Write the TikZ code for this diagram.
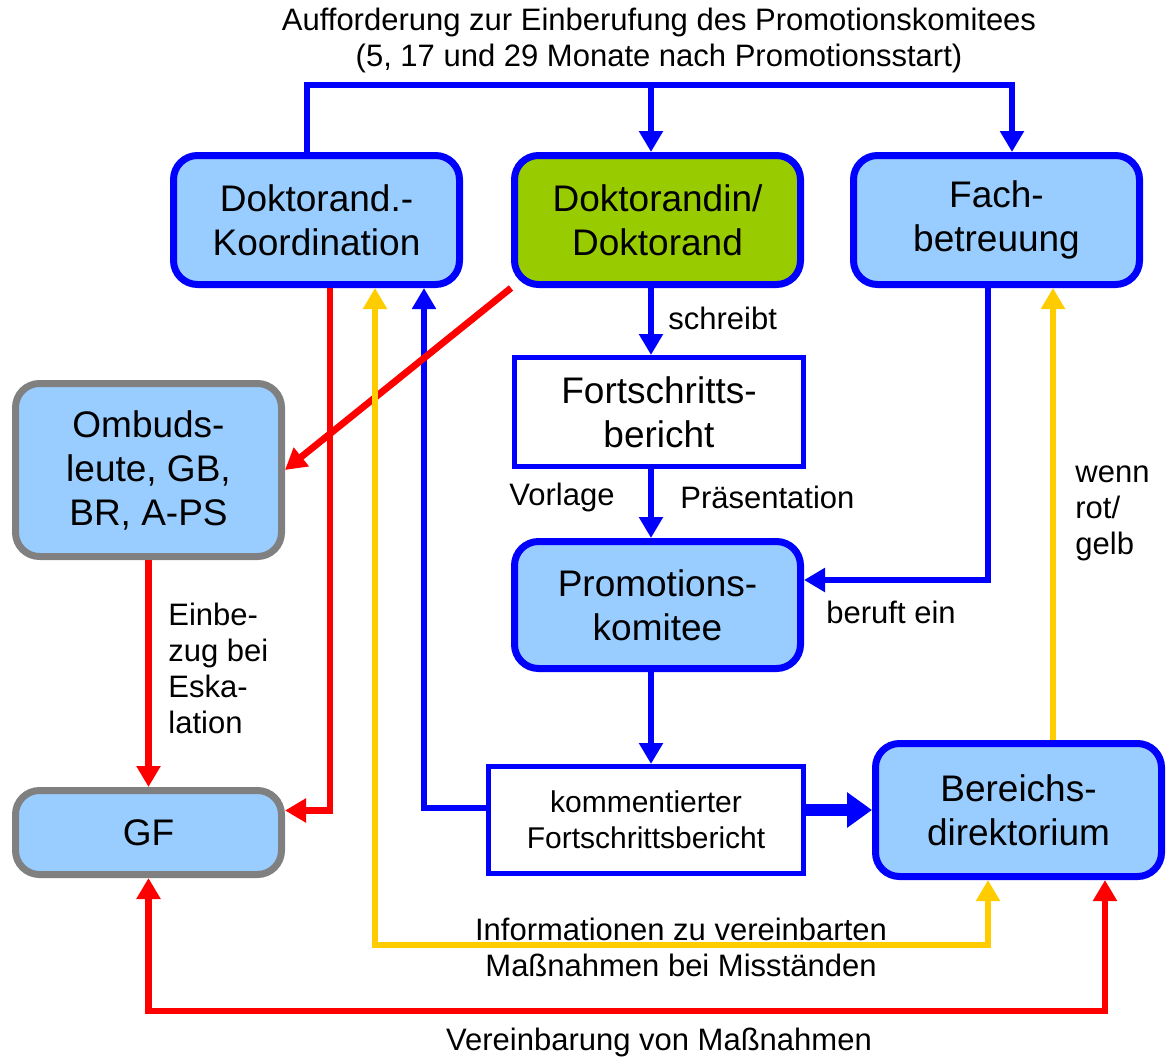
\documentclass[tikz,border=0pt]{standalone}
\usepackage{fontspec}
\setmainfont{Liberation Sans}
\usetikzlibrary{arrows.meta,calc}
\definecolor{boxblue}{HTML}{99CCFF}
\definecolor{boxgreen}{HTML}{99CC00}
\definecolor{lineblue}{HTML}{0000FF}
\definecolor{linered}{HTML}{FF0000}
\definecolor{lineyellow}{HTML}{FFCC00}
\definecolor{boxgray}{HTML}{808080}

\begin{document}
\begin{tikzpicture}[x=0.5pt,y=-0.5pt,
  >={Triangle[width=11.5pt,length=10.5pt]},
  rbox/.style={draw=lineblue,line width=3.5pt,rounded corners=12pt,fill=boxblue,
    minimum width=143pt,minimum height=64.5pt,align=center,
    font=\fontsize{18.5}{22}\selectfont},
  gbox/.style={rbox,draw=boxgray,minimum width=133pt},
  wbox/.style={draw=lineblue,line width=2.5pt,fill=white,align=center},
  lbl/.style={font=\fontsize{15.5}{18}\selectfont,inner sep=0pt},
  bline/.style={draw=lineblue,line width=3.4pt},
  rline/.style={draw=linered,line width=3.4pt},
  yline/.style={draw=lineyellow,line width=3.4pt}]
\useasboundingbox (0,0) rectangle (1167,1060);

\node[rbox] (koord) at (316.5,220) {Doktorand.-\\Koordination};
\node[rbox,fill=boxgreen] (dokt) at (657.5,220) {Doktorandin/\\Doktorand};
\node[rbox] (fach) at (996.5,220) {Fach-\\betreuung};
\node[gbox,minimum height=86.5pt] (ombud) at (148.5,470) {Ombuds-\\leute, GB,\\BR, A-PS};
\node[wbox,minimum width=144.5pt,minimum height=54.5pt,
  font=\fontsize{18.5}{22}\selectfont] (bericht) at (659,412) {Fortschritts-\\bericht};
\node[rbox,minimum height=63.5pt] (komitee) at (657.5,605) {Promotions-\\komitee};
\node[gbox,minimum height=42pt] (gf) at (148.5,832.5) {GF};
\node[wbox,minimum width=157.5pt,minimum height=53.5pt,
  font=\fontsize{15}{18}\selectfont] (komm) at (646,820) {kommentierter\\Fortschrittsbericht};
\node[rbox,minimum height=66.5pt] (bereich) at (1018.5,810) {Bereichs-\\direktorium};

\node[lbl,align=center] (aufford) at (659,40)
  {Aufforderung zur Einberufung des Promotionskomitees\\(5, 17 und 29 Monate nach Promotionsstart)};
\node[lbl,anchor=west] (schreibt) at (668,318) {schreibt};
\node[lbl,anchor=east] (vorlage) at (615,497) {Vorlage};
\node[lbl,anchor=west] (praes) at (680,497) {Präsentation};
\node[lbl,anchor=west] (beruft) at (826,612) {beruft ein};
\node[lbl,anchor=west,align=left] (wenn) at (1075,513) {wenn\\rot/\\gelb};
\node[lbl,anchor=west,align=left] (einbezug) at (168,668) {Einbe-\\zug bei\\Eska-\\lation};
\node[lbl,align=center] (info) at (681,947)
  {Informationen zu vereinbarten\\Maßnahmen bei Misständen};
\node[lbl] (vereinb) at (659,1042) {Vereinbarung von Maßnahmen};

\coordinate (dtop) at ($(dokt.north)+(-6.5,0)$);
\coordinate (dbot) at ($(dokt.south)+(-6.5,0)$);
\coordinate (bbot) at ($(bericht.south)+(-8,0)$);
\coordinate (kbot) at ($(komitee.south)+(-6.5,0)$);
\coordinate (yup) at ($(bereich.north)+(34.5,0)$);

\draw[bline,->] ($(koord.north)+(-9.5,0)$) -- ++(0,-67) -| ($(fach.north)+(15.5,0)$);
\draw[bline,->] ($(dtop)+(0,-67)$) -- (dtop);
\draw[bline,->] (dbot) -- (dbot |- bericht.north);
\draw[bline,->] (bbot) -- (bbot |- komitee.north);
\draw[bline,->] (kbot) -- (kbot |- komm.north);
\draw[bline,->] ($(fach.south)+(-8.5,0)$) |- ($(komitee.east)+(0,-25)$);
\draw[bline,->] ($(komm.west)+(0,-12)$) -| ($(koord.south)+(107.5,0)$);
\draw[bline,line width=6pt,-{Triangle[width=17pt,length=12.5pt]}]
  ($(komm.east)+(0,-10)$) -- (bereich.west);

\draw[rline,->] ($(koord.south)+(13.5,0)$) |- ($(gf.east)+(0,-22)$);
\draw[rline,->] (dokt.south west) -- (ombud.east);
\draw[rline,->] (ombud) -- (gf);
\draw[rline,<->] (gf.south) -- ++(0,133) -| ($(bereich.south)+(86.5,0)$);

\draw[yline,<->] ($(koord.south)+(58.5,0)$) -- ++(0,657) -| ($(bereich.south)+(-30.5,0)$);
\draw[yline,->] (yup) -- (yup |- fach.south);
\end{tikzpicture}
\end{document}
